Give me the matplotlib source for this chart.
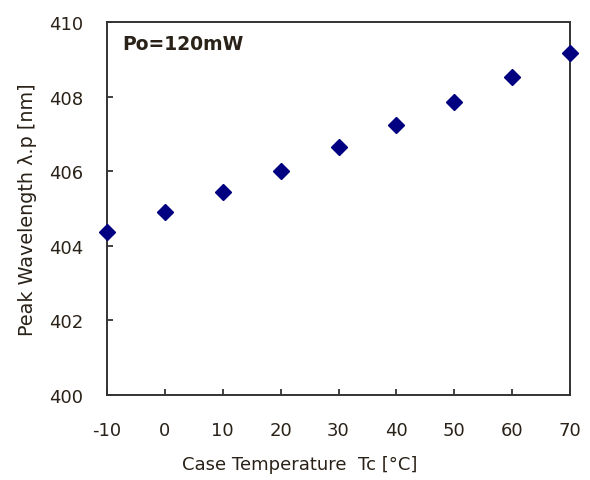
import matplotlib
matplotlib.use('Agg')
import matplotlib.pyplot as plt

# values
case_temp = [-10, 0, 10, 20, 30, 40, 50, 60, 70]
peak_wavelength = [404.37, 404.91, 405.45, 406.01, 406.64, 407.24, 407.86, 408.52, 409.17]
x_ticks = [-10, 0, 10, 20, 30, 40, 50, 60, 70]
y_ticks = [400, 402, 404, 406, 408, 410]

text_color = '#2a2218'
plt.rcParams['font.family'] = ['DejaVu Sans']
plt.rcParams['axes.unicode_minus'] = False

fig = plt.figure(figsize=(5.9, 4.81), dpi=100)
ax = fig.add_axes([0.1814, 0.1767, 0.7847, 0.7755])

ax.plot(case_temp, peak_wavelength, linestyle='none', marker='D',
        markersize=8.5, color='#000080', clip_on=False, zorder=3)

ax.set_xlim(-10, 70)
ax.set_ylim(400, 410)
ax.set_xticks(x_ticks)
ax.set_yticks(y_ticks)
ax.tick_params(direction='in', length=4, width=1.2, labelsize=13,
               labelcolor=text_color, color='#222222', top=False, right=False)
ax.tick_params(axis='x', pad=19)
ax.tick_params(axis='y', pad=17)
for s in ax.spines.values():
    s.set_linewidth(1.4)
    s.set_color('#333333')

ax.set_xlabel('Case Temperature  Tc [°C]', fontsize=13, color=text_color)
ax.xaxis.set_label_coords(0.417, -0.16)
ax.set_ylabel('Peak Wavelength λ.p [nm]', fontsize=13.8, color=text_color, labelpad=9)

ax.text(0.032, 0.941, 'Po=120mW', transform=ax.transAxes, fontsize=13.5,
        fontweight='bold', color=text_color, va='center', ha='left')

plt.savefig('out.png', dpi=100)
plt.close()
